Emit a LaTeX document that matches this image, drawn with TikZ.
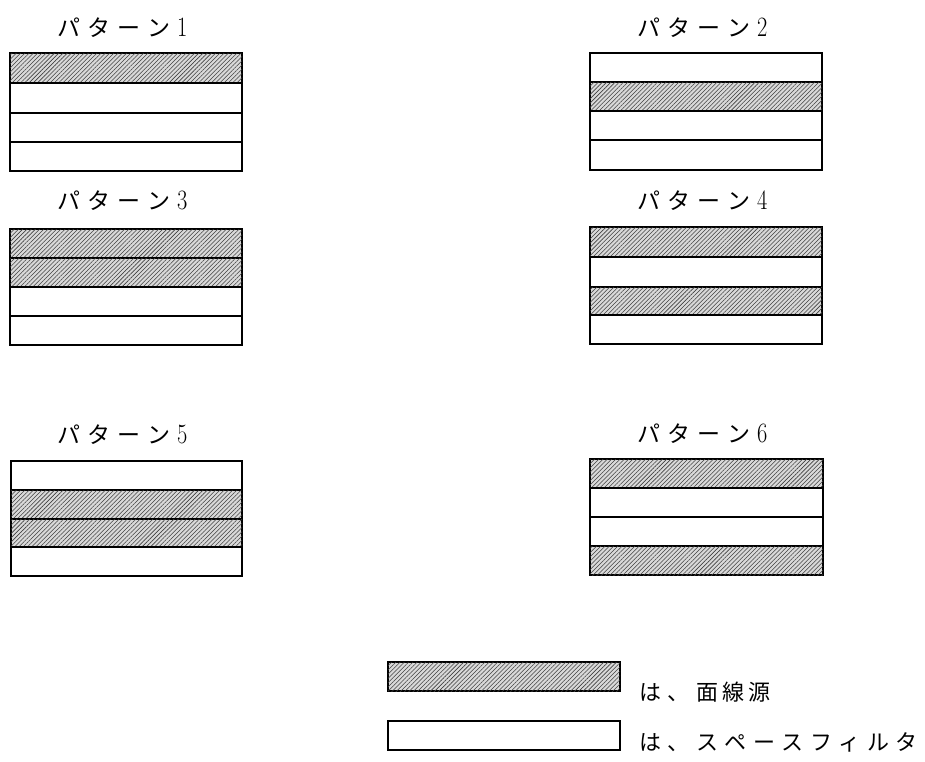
\documentclass[tikz,border=0pt]{standalone}
\usepackage{fontspec}
\newfontfamily\jp{Noto Sans CJK JP}
\usetikzlibrary{patterns.meta}
\tikzset{
  src/.style={draw, line width=1.1pt, fill=gray!30,
    postaction={pattern={Lines[angle=45,distance=3pt,line width=0.55pt]}, pattern color=black!75}},
  filt/.style={draw, line width=1.1pt, fill=white},
  ttl/.style={font=\jp\fontsize{23pt}{23pt}\selectfont, inner sep=0pt, anchor=base west},
  lgd/.style={font=\jp\fontsize{22pt}{22pt}\selectfont, inner sep=0pt, anchor=base west}
}
\newcommand\gapx{\hspace{7pt}}
\newcommand\gapl{\hspace{6.5pt}}
\newcommand\dig[1]{{\rmfamily\fontsize{28pt}{28pt}\selectfont\scalebox{0.8}[1]{#1}}}
\begin{document}
\begin{tikzpicture}[x=1pt,y=-1pt]
\useasboundingbox (0,0) rectangle (925,761);
% Pattern 1
\node[ttl] (t1) at (57,36) {パ\gapx タ\gapx ー\gapx ン\gapx \dig{1}};
\draw[src]  (10,53) rectangle (242,83);
\draw[filt] (10,83) rectangle (242,113);
\draw[filt] (10,113) rectangle (242,142);
\draw[filt] (10,142) rectangle (242,171);
% Pattern 2
\node[ttl] (t2) at (637,36) {パ\gapx タ\gapx ー\gapx ン\gapx \dig{2}};
\draw[filt] (590,53) rectangle (822,82);
\draw[src]  (590,82) rectangle (822,111);
\draw[filt] (590,111) rectangle (822,140);
\draw[filt] (590,140) rectangle (822,170);
% Pattern 3
\node[ttl] (t3) at (57,209) {パ\gapx タ\gapx ー\gapx ン\gapx \dig{3}};
\draw[src]  (10,229) rectangle (242,258);
\draw[src]  (10,258) rectangle (242,287);
\draw[filt] (10,287) rectangle (242,316);
\draw[filt] (10,316) rectangle (242,345);
% Pattern 4
\node[ttl] (t4) at (637,209) {パ\gapx タ\gapx ー\gapx ン\gapx \dig{4}};
\draw[src]  (590,227) rectangle (822,257);
\draw[filt] (590,257) rectangle (822,287);
\draw[src]  (590,287) rectangle (822,315);
\draw[filt] (590,315) rectangle (822,344);
% Pattern 5
\node[ttl] (t5) at (57,443) {パ\gapx タ\gapx ー\gapx ン\gapx \dig{5}};
\draw[filt] (11,461) rectangle (242,490);
\draw[src]  (11,490) rectangle (242,519);
\draw[src]  (11,519) rectangle (242,547);
\draw[filt] (11,547) rectangle (242,576);
% Pattern 6
\node[ttl] (t6) at (637,442) {パ\gapx タ\gapx ー\gapx ン\gapx \dig{6}};
\draw[src]  (590,459) rectangle (823,488);
\draw[filt] (590,488) rectangle (823,517);
\draw[filt] (590,517) rectangle (823,546);
\draw[src]  (590,546) rectangle (823,575);
% Legend
\draw[src]  (388,662) rectangle (620,691);
\node[lgd] (l1) at (639,700) {は\gapl 、\gapl 面\hspace{4pt}線\hspace{4pt}源};
\draw[filt] (388,721) rectangle (620,750);
\node[lgd] (l2) at (639,750) {は\gapl 、\gapl ス\gapl ペ\gapl ー\gapl ス\gapl フ\gapl ィ\gapl ル\gapl タ};
\end{tikzpicture}
\end{document}
